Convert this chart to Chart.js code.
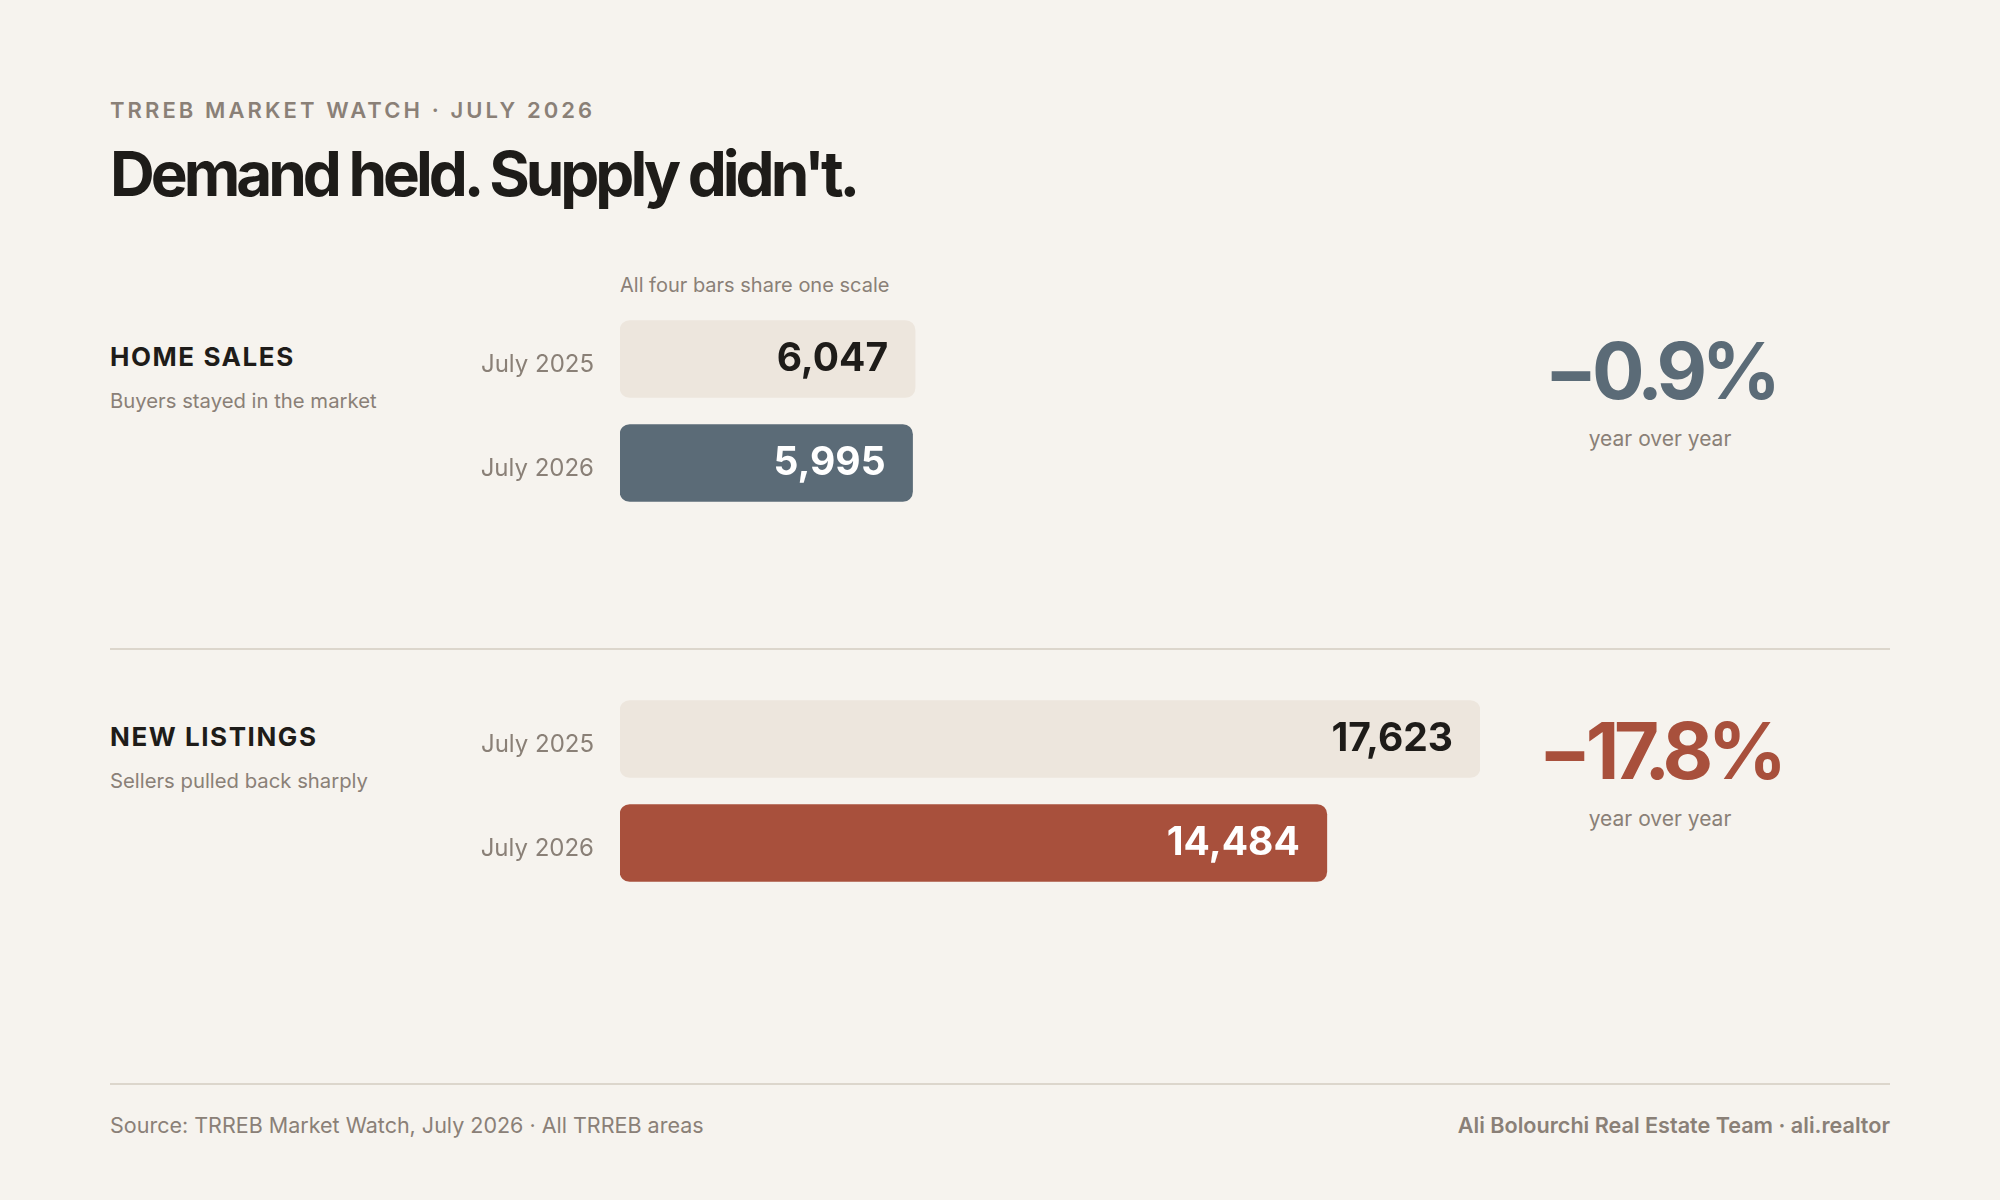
<!DOCTYPE html>
<html>
<head>
<meta charset="utf-8">
<script src="https://cdn.jsdelivr.net/npm/chart.js@4"></script>
<style>
  html, body { margin:0; padding:0; }
  body { width:2000px; height:1200px; background:#f6f3ee; position:relative; overflow:hidden;
         font-family: Inter, "Noto Sans", sans-serif; }
  .abs { position:absolute; line-height:1; white-space:nowrap; }
  .kicker { left:110px; top:99px; font-size:22px; font-weight:600; letter-spacing:0.14em; color:#8a8077; }
  .title { left:110px; top:143px; font-size:62px; font-weight:700; letter-spacing:-0.065em; color:#1e1c19; }
  .note { left:620px; top:274.5px; font-size:20px; color:#8a8077; }
  .cat { left:110px; font-size:26px; font-weight:700; letter-spacing:0.06em; color:#1e1c19; }
  .sub { left:110px; font-size:20.3px; color:#8a8077; }
  .pct { left:1480px; width:360px; text-align:center; font-size:78px; font-weight:700; letter-spacing:-0.07em; }
  .yoy { left:1480px; width:360px; text-align:center; font-size:21px; color:#8a8077; }
  .rule { position:absolute; left:110px; width:1780px; height:1.5px; background:#dcd6cc; }
  .foot { top:1115px; font-size:21.5px; color:#8a8077; }
  canvas { position:absolute; }
</style>
</head>
<body>
<div class="abs kicker" id="kicker"></div>
<div class="abs title" id="title"></div>
<div class="abs note" id="note"></div>
<div class="rule" style="top:648px"></div>
<div class="rule" style="top:1083px"></div>
<div class="abs foot" id="srcL" style="left:110px"></div>
<div class="abs foot" id="srcR" style="right:110px; font-weight:600; font-size:21.6px"></div>
<canvas id="c0" width="1080" height="208" style="left:400px; top:306.5px"></canvas>
<canvas id="c1" width="1080" height="208" style="left:400px; top:686.5px"></canvas>
<script>
// ---- data ----
const kicker = "TRREB MARKET WATCH · JULY 2026";
const title = "Demand held. Supply didn't.";
const scaleNote = "All four bars share one scale";
const categories = ["HOME SALES", "NEW LISTINGS"];
const subtitles = ["Buyers stayed in the market", "Sellers pulled back sharply"];
const periods = ["July 2025", "July 2026"];
const values2025 = [6047, 17623];
const values2026 = [5995, 14484];
const yoyChange = [-0.9, -17.8];
const yoyLabel = "year over year";
const sourceText = "Source: TRREB Market Watch, July 2026 · All TRREB areas";
const creditText = "Ali Bolourchi Real Estate Team · ali.realtor";

// ---- styles ----
const priorColor = "#ede6dd";
const currentColors = ["#5b6b77", "#a8503c"];
const grayText = "#8a8077";
const darkText = "#1e1c19";
const groupTops = [320, 700];

document.getElementById('kicker').textContent = kicker;
document.getElementById('title').textContent = title;
document.getElementById('note').textContent = scaleNote;
document.getElementById('srcL').textContent = sourceText;
document.getElementById('srcR').textContent = creditText;

const sharedMax = Math.max(...values2025, ...values2026);

const valueLabels = {
  id: 'valueLabels',
  afterDatasetsDraw(chart) {
    const ctx = chart.ctx;
    const meta = chart.getDatasetMeta(0);
    const ds = chart.data.datasets[0];
    ctx.save();
    ctx.font = '700 39px Inter, "Noto Sans", sans-serif';
    ctx.textAlign = 'right';
    ctx.textBaseline = 'middle';
    meta.data.forEach((bar, i) => {
      ctx.fillStyle = i === 0 ? darkText : '#ffffff';
      ctx.fillText(ds.data[i].toLocaleString('en-US'), bar.x - 27, bar.y);
    });
    ctx.restore();
  }
};

categories.forEach((cat, g) => {
  const top = groupTops[g];
  const c = document.createElement('div');
  c.className = 'abs cat'; c.style.top = (top + 37 - 13) + 'px'; c.textContent = cat;
  document.body.appendChild(c);
  const s = document.createElement('div');
  s.className = 'abs sub'; s.style.top = (top + 81 - 10.15) + 'px'; s.textContent = subtitles[g];
  document.body.appendChild(s);
  const p = document.createElement('div');
  p.className = 'abs pct'; p.style.top = (top + 50.5 - 39) + 'px';
  p.style.color = currentColors[g];
  p.textContent = (yoyChange[g] < 0 ? '\u2212' : '+') + Math.abs(yoyChange[g]).toFixed(1) + '%';
  document.body.appendChild(p);
  const y = document.createElement('div');
  y.className = 'abs yoy'; y.style.top = (top + 120 - 12.4) + 'px'; y.textContent = yoyLabel;
  document.body.appendChild(y);

  new Chart(document.getElementById('c' + g), {
    type: 'bar',
    data: {
      labels: periods,
      datasets: [{
        data: [values2025[g], values2026[g]],
        backgroundColor: [priorColor, currentColors[g]],
        borderRadius: 10,
        borderSkipped: false,
        barThickness: 77
      }]
    },
    options: {
      indexAxis: 'y',
      responsive: false,
      animation: false,
      devicePixelRatio: 1,
      layout: { padding: 0 },
      plugins: { legend: { display: false }, tooltip: { enabled: false } },
      scales: {
        x: { display: false, min: 0, max: sharedMax },
        y: {
          grid: { display: false, drawTicks: false },
          border: { display: false },
          ticks: {
            color: grayText,
            font: { family: 'Inter, "Noto Sans", sans-serif', size: 24, weight: 400 },
            padding: 26,
            labelOffset: 5.5
          },
          afterFit(scale) {
            scale.width = 220;
            scale.paddingTop = 0;
            scale.paddingBottom = 0;
          }
        }
      }
    },
    plugins: [valueLabels]
  });
});
</script>
</body>
</html>
